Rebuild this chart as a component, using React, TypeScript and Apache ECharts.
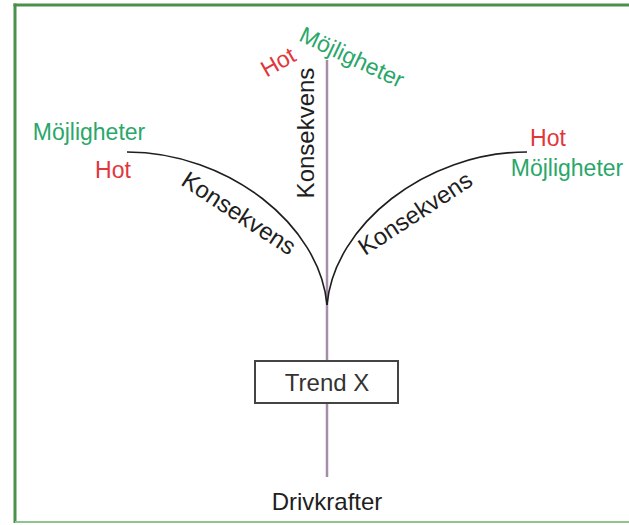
import React, { useEffect, useRef } from "react";
import * as echarts from "echarts";

// Diagram texts
const trendLabel = "Trend X";
const driverLabel = "Drivkrafter";
const consequenceLabel = "Konsekvens";
const threatLabel = "Hot";
const opportunityLabel = "Möjligheter";

const RED = "#e2363c";
const GREEN = "#2aa76a";
const INK = "#1e1e1e";
const FONT = "Liberation Sans, Arial, sans-serif";

function txt(text: string, x: number, y: number, fill: string, rotation = 0, size = 24) {
  return {
    type: "text",
    x,
    y,
    rotation,
    style: {
      text,
      fill,
      fontSize: size,
      fontFamily: FONT,
      textAlign: "center",
      textVerticalAlign: "middle",
    },
    z: 10,
  };
}

export default function App() {
  const ref = useRef<HTMLDivElement>(null);
  useEffect(() => {
    if (!ref.current) return;
    const chart = echarts.init(ref.current, undefined, { renderer: "svg" });
    const cx = 327;
    chart.setOption({
      animation: false,
      backgroundColor: "#ffffff",
      graphic: [
        {
          type: "line",
          shape: { x1: 13.5, y1: 5, x2: 629, y2: 5 },
          style: { stroke: "#4a8f4a", lineWidth: 3 },
          z: 1,
        },
        {
          type: "line",
          shape: { x1: 15, y1: 3.5, x2: 15, y2: 523 },
          style: { stroke: "#4a8f4a", lineWidth: 3 },
          z: 1,
        },
        {
          type: "line",
          shape: { x1: 15, y1: 522, x2: 629, y2: 522 },
          style: { stroke: "#8fc48f", lineWidth: 2 },
          z: 1,
        },
        {
          type: "line",
          shape: { x1: cx, y1: 60, x2: cx, y2: 477 },
          style: { stroke: "#a68bab", lineWidth: 2.5 },
          z: 2,
        },
        {
          type: "bezierCurve",
          shape: { x1: 127, y1: 152, cpx1: 228, cpy1: 152, cpx2: 320, cpy2: 225, x2: cx, y2: 305 },
          style: { stroke: INK, lineWidth: 1.6, fill: null },
          z: 3,
        },
        {
          type: "bezierCurve",
          shape: { x1: 527, y1: 152, cpx1: 426, cpy1: 152, cpx2: 334, cpy2: 225, x2: cx, y2: 305 },
          style: { stroke: INK, lineWidth: 1.6, fill: null },
          z: 3,
        },
        {
          type: "rect",
          shape: { x: 255, y: 361, width: 143, height: 42 },
          style: { fill: "#ffffff", stroke: "#444444", lineWidth: 2 },
          z: 5,
        },
        txt(trendLabel, 327, 382, "#333333"),
        txt(driverLabel, 327, 501, INK),
        txt(consequenceLabel, 305, 133, INK, Math.PI / 2),
        txt(consequenceLabel, 239, 213, INK, -0.58),
        txt(consequenceLabel, 415, 213, INK, 0.58),
        txt(opportunityLabel, 89, 132, GREEN, 0, 23),
        txt(threatLabel, 113, 170, RED, 0, 23),
        txt(threatLabel, 548, 138, RED, 0, 23),
        txt(opportunityLabel, 567, 168, GREEN, 0, 23),
        txt(threatLabel, 278, 62, RED, 0.52, 23),
        txt(opportunityLabel, 352, 57, GREEN, -0.44, 23),
      ],
    });
    return () => chart.dispose();
  }, []);
  return (
    <div
      ref={ref}
      style={{ position: "fixed", left: 0, top: 0, width: 629, height: 525 }}
    />
  );
}
